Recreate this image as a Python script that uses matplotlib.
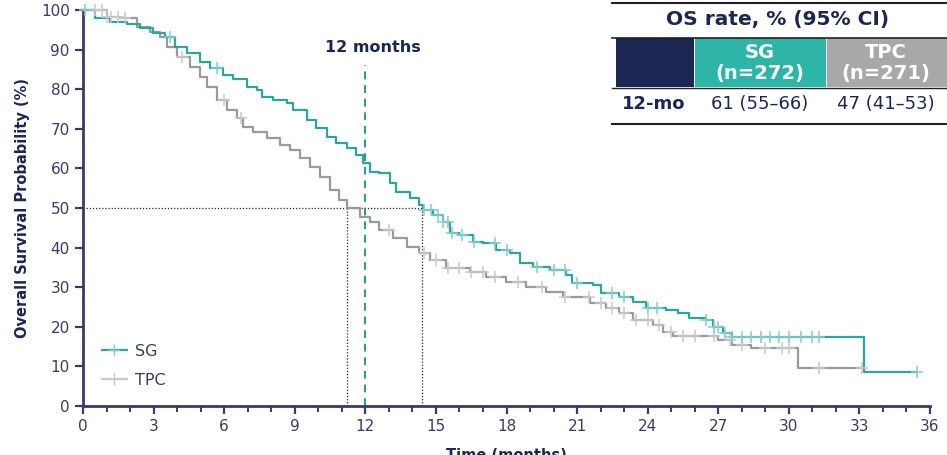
import numpy as np
import matplotlib
matplotlib.use("Agg")
import matplotlib.pyplot as plt
from matplotlib.patches import Rectangle
from matplotlib.lines import Line2D

# ---------------- data ----------------
sg_t = [0, 0.5, 1.15, 1.85, 2.42, 2.99, 3.5, 3.9, 4.4, 4.97, 5.4, 5.96, 6.38, 6.95, 7.38,
        7.59, 8.08, 8.65, 8.93, 9.5, 9.92, 10.35, 10.77, 11.2, 11.62, 11.9, 12.19, 12.6,
        13.04, 13.32, 13.89, 14.3, 14.45, 14.87, 15.3, 15.58, 16.0, 16.57, 17.0, 17.57,
        18.13, 18.56, 19.12, 19.83, 20.54, 20.8, 21.67, 22.0, 22.8, 23.37, 23.93, 24.78,
        25.3, 25.77, 26.48, 26.76, 27.19, 27.6, 33.2]
sg_s = [100, 97.9, 97.0, 96.5, 95.4, 94.1, 93.3, 90.7, 89.1, 86.9, 85.3, 83.6, 82.7, 80.6, 79.8,
        78.1, 77.3, 76.4, 74.7, 72.2, 70.1, 68.0, 66.3, 65.1, 63.4, 61.3, 59.2, 58.8,
        56.2, 54.1, 52.4, 50.8, 49.5, 48.2, 46.5, 43.6, 43.2, 41.5, 41.1, 39.4,
        38.6, 36.0, 35.2, 34.3, 33.1, 31.0, 30.6, 28.5, 27.6, 26.3, 24.7, 24.2,
        23.4, 22.1, 21.7, 20.0, 18.4, 17.3, 8.6]
sg_end = 35.45
sg_cens = [0.1, 3.7, 5.7, 14.5, 14.8, 15.1, 15.3, 15.5, 15.7, 16.1, 16.6, 17.5, 18.0, 19.3,
           20.0, 20.5, 21.0, 22.5, 23.0, 24.0, 24.4, 26.5, 26.8, 27.0, 27.3, 27.6, 28.0,
           28.4, 28.8, 29.2, 29.6, 30.0, 30.5, 31.0, 31.3, 35.45]

tpc_t = [0, 1.0, 1.57, 2.28, 2.85, 3.27, 3.55, 3.98, 4.54, 4.97, 5.25, 5.68, 6.1, 6.53, 6.81,
         7.23, 7.8, 8.37, 8.79, 9.21, 9.64, 10.06, 10.49, 10.9, 11.2, 11.76, 12.19, 12.6,
         13.18, 13.75, 14.3, 14.73, 15.44, 16.43, 17.14, 17.99, 18.84, 19.69, 20.4, 21.53,
         22.24, 22.8, 23.37, 24.22, 24.64, 25.07, 27.0, 27.6, 28.4, 30.4]
tpc_s = [100, 98.3, 97.9, 95.8, 94.5, 93.3, 90.7, 88.2, 85.7, 83.2, 80.6, 77.3, 74.7, 72.7, 70.5,
         69.3, 67.6, 65.9, 64.6, 62.6, 60.4, 57.9, 54.5, 52.0, 49.9, 47.8, 46.5, 44.4,
         42.3, 40.2, 38.6, 36.9, 34.8, 33.9, 32.7, 31.4, 30.1, 28.9, 27.6, 25.9,
         24.7, 23.4, 21.7, 20.5, 18.8, 17.6, 16.7, 15.5, 14.6, 9.6]
tpc_end = 33.1
tpc_cens = [0.5, 0.8, 1.0, 1.2, 1.5, 1.8, 4.2, 6.0, 6.7, 13.0, 14.5, 15.0, 15.5, 16.0, 16.5,
            17.0, 17.5, 18.5, 19.5, 20.5, 21.5, 22.0, 22.5, 23.0, 23.5, 24.0, 24.5, 25.0,
            25.5, 26.0, 26.8, 27.5, 28.0, 29.0, 29.7, 30.0, 31.3, 33.1]

x_ticks = list(range(0, 37, 3))
y_ticks = list(range(0, 101, 10))
medians = {"SG": 14.4, "TPC": 11.2}
landmark = 12

table_title = "OS rate, % (95% CI)"
table_cols = ["SG\n(n=272)", "TPC\n(n=271)"]
table_row = ["12-mo", "61 (55\u201366)", "47 (41\u201353)"]

# ---------------- style ----------------
NAVY = "#1c2653"
AXC = "#3a3a6a"
TEAL = "#2ba59e"
TEAL_L = "#86cbc6"
GRAY = "#9a9a9a"
GRAY_L = "#c9c9c9"
TEAL_BOX = "#2db6a8"
GRAY_BOX = "#a8a8a8"

plt.rcParams["font.family"] = ["DejaVu Sans"]

fig = plt.figure(figsize=(9.47, 4.55), dpi=100)
ax = fig.add_axes([0.0877, 0.1077, 0.8943, 0.8703])


def step_val(times, surv, q):
    idx = np.searchsorted(np.asarray(times), np.asarray(q), side="right") - 1
    return np.asarray(surv)[idx]


for t, s, end, cens, col, colL in [
    (tpc_t, tpc_s, tpc_end, tpc_cens, GRAY, GRAY_L),
    (sg_t, sg_s, sg_end, sg_cens, TEAL, TEAL_L),
]:
    tt = list(t) + [end]
    ss = list(s) + [s[-1]]
    ax.step(tt, ss, where="post", color=col, lw=1.6, clip_on=False, zorder=3)
    ax.plot(cens, step_val(t, s, cens), ls="none", marker="+", ms=8, mew=1.1,
            color=colL, clip_on=False, zorder=4)

# median reference lines
ax.plot([0, medians["SG"]], [50, 50], ls=(0, (1, 1.5)), color=NAVY, lw=0.9, zorder=2)
for m in medians.values():
    ax.plot([m, m], [0, 50], ls=(0, (1, 1.5)), color=NAVY, lw=0.9, zorder=2)

# 12 month landmark
ax.plot([landmark, landmark], [0, 86], ls=(0, (4, 3)), color="#2e9c72", lw=1.4, zorder=2)
ax.text(landmark + 0.3, 90.5, "12 months", ha="center", va="center", color=NAVY,
        fontsize=11.5, fontweight="bold")

ax.set_xlim(0, 36)
ax.set_ylim(0, 100)
ax.set_xticks(x_ticks)
ax.set_xticks(range(0, 37), minor=True)
ax.set_yticks(y_ticks)
for sp in ["top", "right"]:
    ax.spines[sp].set_visible(False)
for sp in ["left", "bottom"]:
    ax.spines[sp].set_color(AXC)
    ax.spines[sp].set_linewidth(2)
ax.tick_params(axis="both", which="major", colors=AXC, labelcolor=AXC, width=1.6,
               length=6, labelsize=11)
ax.tick_params(axis="x", which="minor", colors=AXC, width=1.4, length=4)
ax.set_ylabel("Overall Survival Probability (%)", color=NAVY, fontsize=10.5,
              fontweight="bold", labelpad=8)
ax.set_xlabel("Time (months)", color=NAVY, fontsize=10.5, fontweight="bold", labelpad=10)

handles = [Line2D([0], [0], color=TEAL, lw=1.6, marker="+", ms=8, mec=TEAL_L),
           Line2D([0], [0], color=GRAY_L, lw=1.6, marker="+", ms=8, mec=GRAY_L)]
leg = ax.legend(handles, ["SG", "TPC"], loc="lower left", bbox_to_anchor=(0.005, 0.01),
                frameon=False, fontsize=11.5, handlelength=1.6, labelspacing=0.85,
                handletextpad=0.5)
for txt in leg.get_texts():
    txt.set_color(AXC)

# ---------------- table ----------------
W, H = 947.0, 455.0


def fx(px):
    return px / W


def fy(py):
    return 1 - py / H


tr = fig.transFigure
fig.add_artist(Line2D([fx(612), fx(947)], [fy(3), fy(3)], color="#222222", lw=1.5, transform=tr))
fig.text(fx(778), fy(20), table_title, ha="center", va="center", color=NAVY,
         fontsize=14.5, fontweight="bold")
fig.add_artist(Line2D([fx(612), fx(947)], [fy(37.5), fy(37.5)], color="#222222", lw=1.2, transform=tr))
boxes = [(616, 694, NAVY), (695, 826, TEAL_BOX), (827, 947, GRAY_BOX)]
for x0, x1, c in boxes:
    fig.add_artist(Rectangle((fx(x0), fy(87)), fx(x1) - fx(x0), fy(38) - fy(87),
                             transform=tr, facecolor=c, edgecolor="none"))
fig.text(fx(760), fy(63), table_cols[0], ha="center", va="center", color="white",
         fontsize=14, fontweight="bold", linespacing=1.2)
fig.text(fx(886), fy(63), table_cols[1], ha="center", va="center", color="white",
         fontsize=14, fontweight="bold", linespacing=1.2)
fig.add_artist(Line2D([fx(612), fx(947)], [fy(87.5), fy(87.5)], color="#222222", lw=1.0, transform=tr))
fig.text(fx(654), fy(104), table_row[0], ha="center", va="center", color=NAVY,
         fontsize=13, fontweight="bold")
fig.text(fx(760), fy(104), table_row[1], ha="center", va="center", color=NAVY, fontsize=13)
fig.text(fx(886), fy(104), table_row[2], ha="center", va="center", color=NAVY, fontsize=13)
fig.add_artist(Line2D([fx(612), fx(947)], [fy(124), fy(124)], color="#222222", lw=1.5, transform=tr))

fig.savefig("out.png", dpi=100)
